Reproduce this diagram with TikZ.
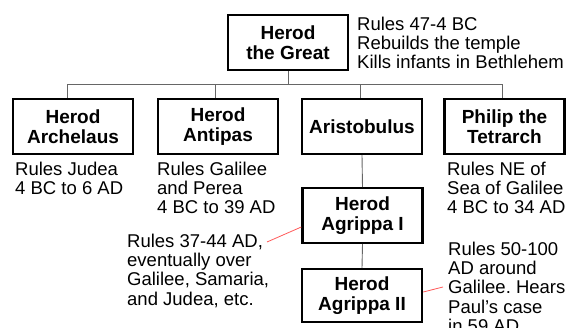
\documentclass[tikz,border=0pt]{standalone}
\usepackage{fontspec}
\setmainfont{Liberation Sans}
\frenchspacing
\usetikzlibrary{calc}

\begin{document}
\begin{tikzpicture}[x=1pt,y=-1pt]
  \tikzset{king/.style={draw,line width=2.4pt,minimum width=120pt,minimum height=54.6pt,inner sep=0pt,align=center,font=\bfseries\fontsize{19}{19.5}\selectfont}};
  \tikzset{info/.style={anchor=north west,inner sep=0pt,align=left,font=\fontsize{18.5}{19.3}\selectfont}};
  \tikzset{tree/.style={draw=black!60,line width=0.9pt}};
  \tikzset{hint/.style={draw=red!65,line width=0.8pt}};
  \useasboundingbox (0,0) rectangle (576,327);
  \node[king] (G) at (288,42.5){Herod\\the Great};
  \node[king] (Ar) at (73,126.5){Herod\\Archelaus};
  \node[king] (An) at (218,126.5){Herod\\Antipas};
  \node[king] (Ari) at (362,126.5){Aristobulus};
  \node[king] (Ph) at (504.5,126.5){Philip the\\Tetrarch};
  \node[king] (A1) at (362.5,215.5){Herod\\Agrippa I};
  \node[king,minimum height=52.6pt] (A2) at (362,295.5){Herod\\Agrippa II};
  \node[info] (nG) at (357,16.6){Rules 47-4 BC\\Rebuilds the temple\\Kills infants in Bethlehem};
  \node[info] (nAr) at (15,161.6){Rules Judea\\4 BC to 6 AD};
  \node[info] (nAn) at (157,161.6){Rules Galilee\\and Perea\\4 BC to 39 AD};
  \node[info] (nPh) at (447,161.6){Rules NE of\\Sea of Galilee\\4 BC to 34 AD};
  \node[info] (nA1) at (127,233.6){Rules 37-44 AD,\\eventually over\\Galilee, Samaria,\\and Judea, etc.};
  \node[info] (nA2) at (448,241.6){Rules 50-100\\AD around\\Galilee. Hears\\Paul’s case\\in 59 AD};
  \coordinate (bus) at (289,84);
  \coordinate (d1) at (67,84);
  \coordinate (d2) at (215,84);
  \coordinate (d3) at (360,84);
  \coordinate (d4) at (502,84);
  \draw[tree] (G.south) -- (G.south |- bus);
  \draw[tree] (d1) -- (d4);
  \draw[tree] (d1) -- (d1 |- Ar.north);
  \draw[tree] (d2) -- (d2 |- An.north);
  \draw[tree] (d3) -- (d3 |- Ari.north);
  \draw[tree] (d4) -- (d4 |- Ph.north);
  \draw[tree] (Ari.south) -- (A1.north);
  \draw[tree] (A1.south) -- (A2.north);
  \coordinate (c1) at (267,242);
  \coordinate (c2) at (443,287);
  \draw[hint] (c1) -- ($(A1.west)+(0,11.5)$);
  \draw[hint] ($(A2.east)+(0,-3.5)$) -- (c2);
\end{tikzpicture}
\end{document}
